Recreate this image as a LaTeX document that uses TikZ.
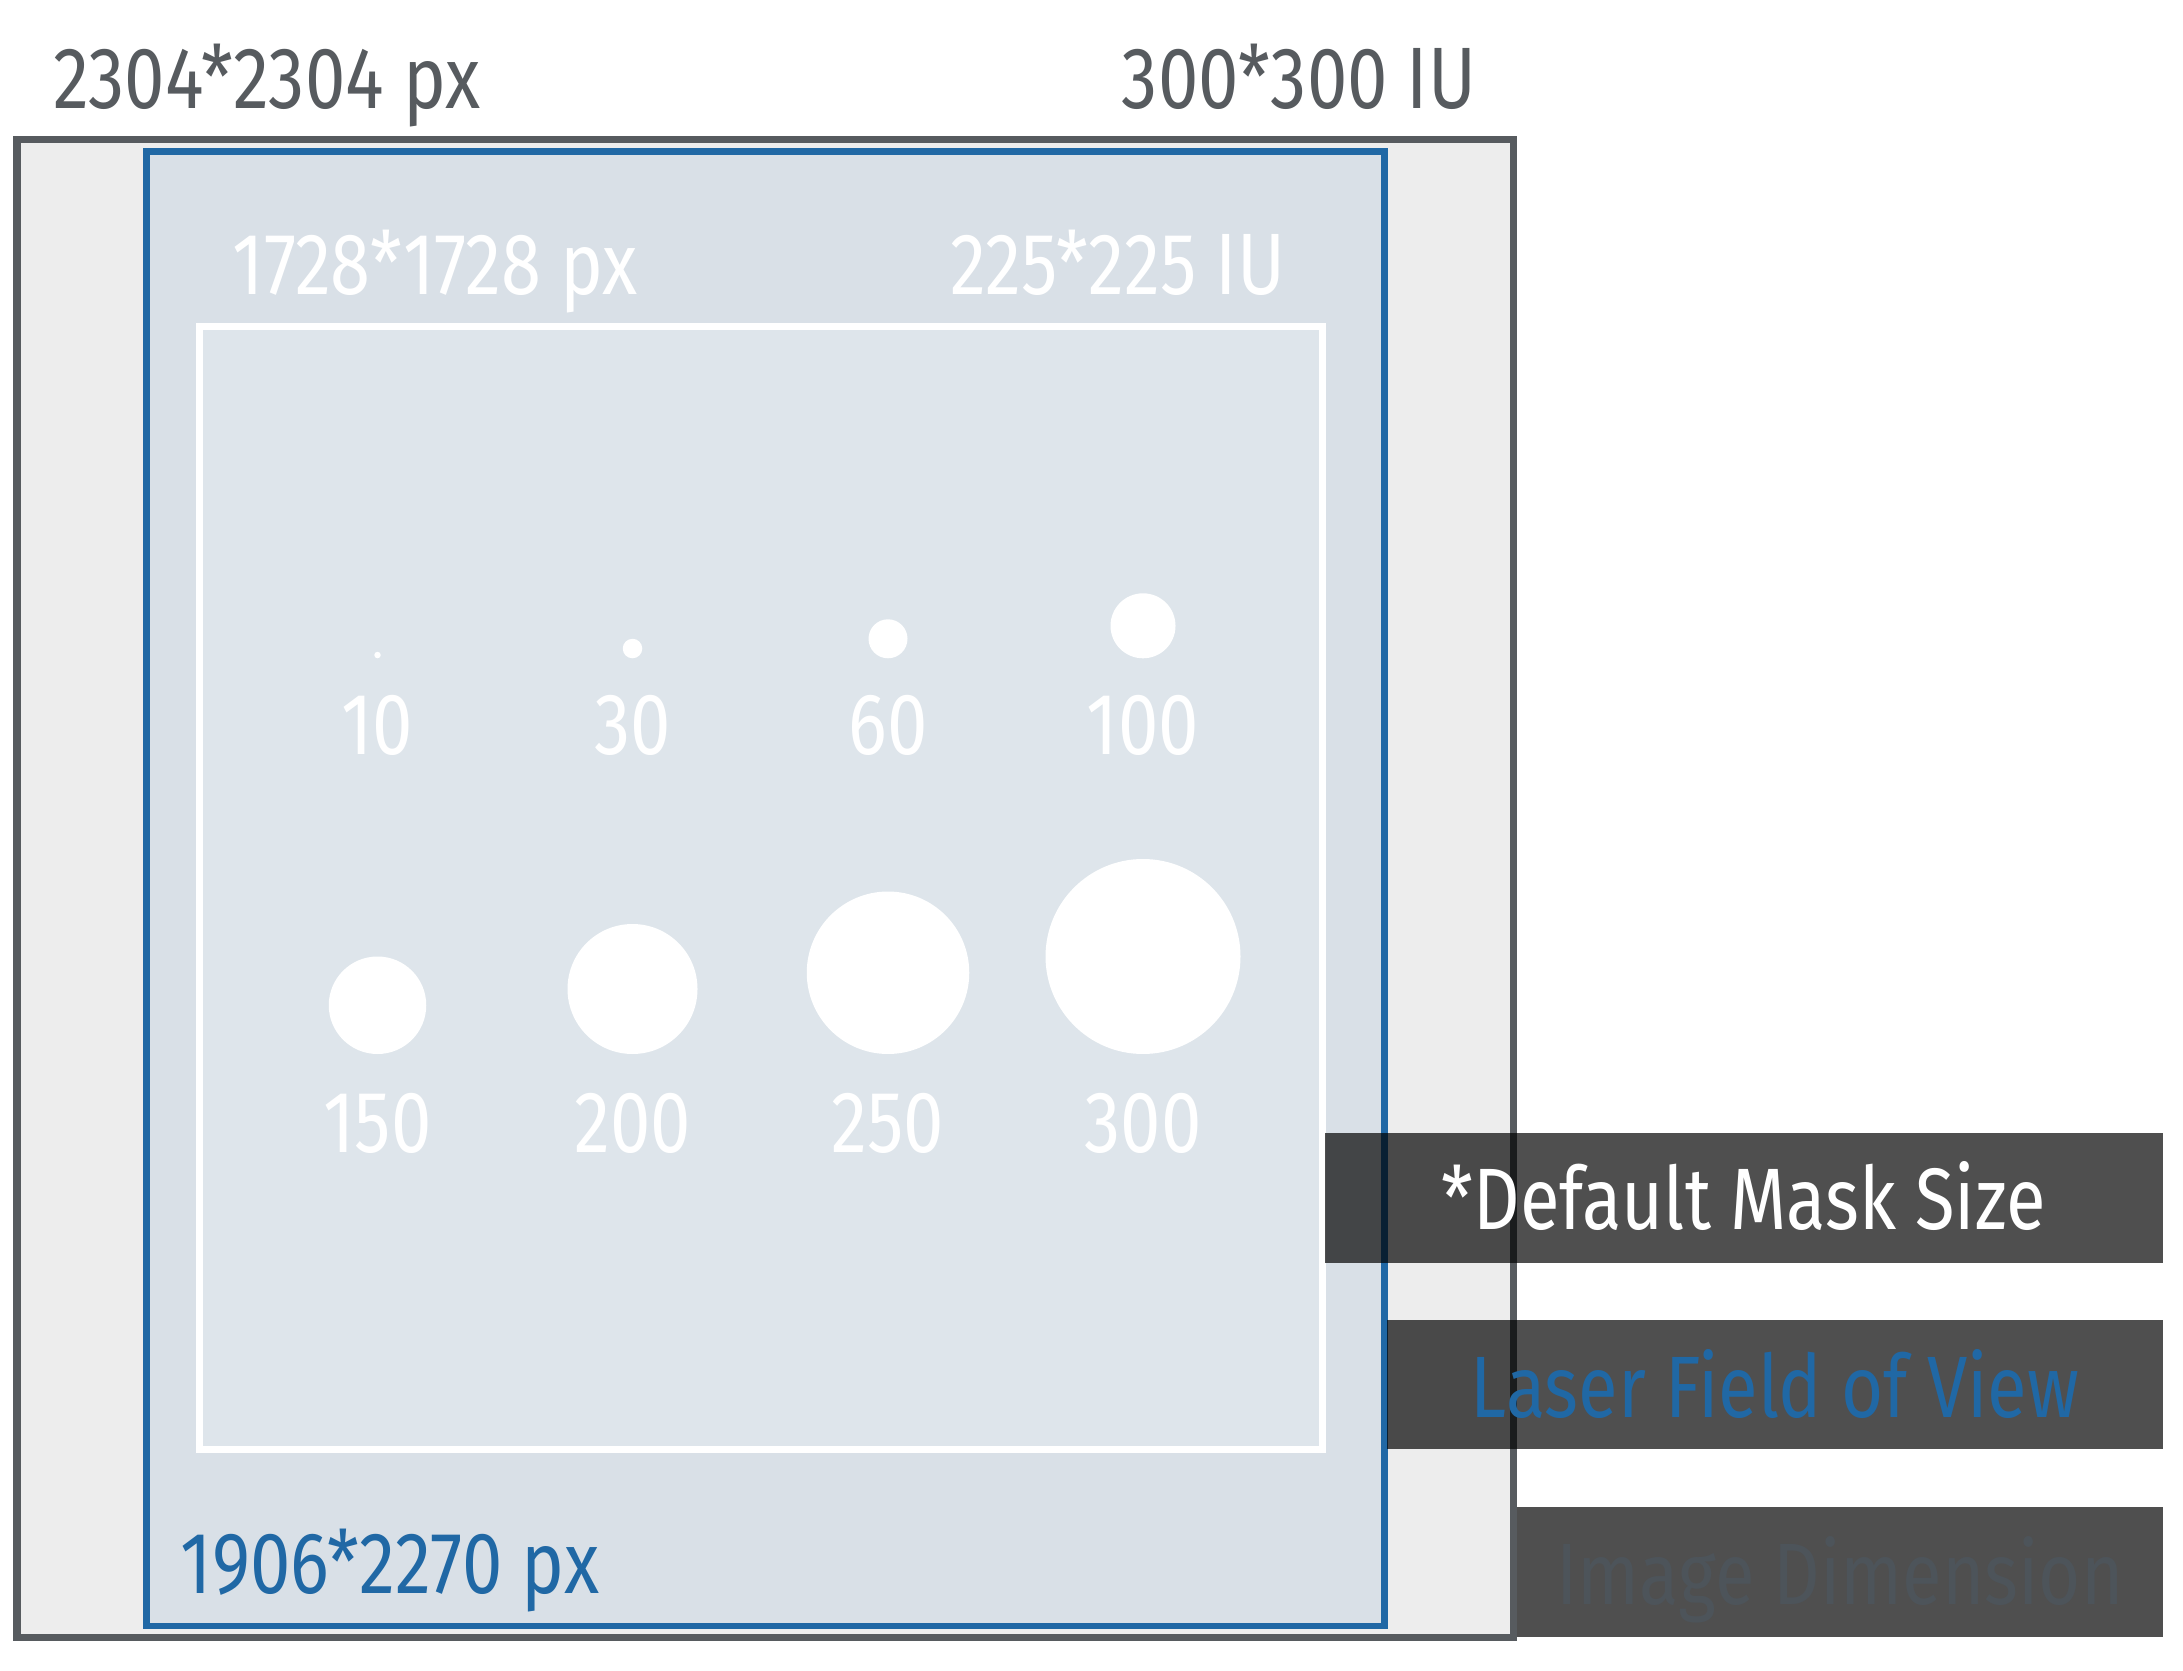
\documentclass[tikz,border=0pt]{standalone}
\usepackage{fontspec}
\setmainfont{Fira Sans}[FakeStretch=0.83]
\definecolor{outergray}{HTML}{575B5F}
\definecolor{outerfill}{HTML}{EDEDED}
\definecolor{fovblue}{HTML}{2068A5}
\definecolor{fovfill}{HTML}{D9E0E7}
\definecolor{maskfill}{HTML}{DEE5EB}
\definecolor{imgtext}{HTML}{4D545A}
\begin{document}
\begin{tikzpicture}[x=0.01cm,y=-0.01cm,
  txt/.style={inner sep=0pt, font=\fontsize{24.8}{30}\selectfont},
  legendbox/.style={fill=black, fill opacity=0.69}]
\useasboundingbox (0,0) rectangle (2183,1671);
\fill[white] (0,0) rectangle (2183,1671);
% rectangles
\draw[outergray, fill=outerfill, line width=0.07cm] (17,140) rectangle (1513,1637);
\draw[fovblue, fill=fovfill, line width=0.065cm] (146.5,151.5) rectangle (1384.5,1626);
\draw[white, fill=maskfill, line width=0.07cm] (199,327) rectangle (1322.5,1449.5);
% header texts
\node[txt, text=outergray, anchor=base west] (imgpx) at (52.7,108.3) {2304*2304 px};
\node[txt, text=outergray, anchor=base east] (imgiu) at (1477,108.3) {300*300 IU};
\node[txt, text=white, anchor=base west] (maskpx) at (232,295) {1728*1728 px};
\node[txt, text=white, anchor=base east] (maskiu) at (1286,295) {225*225 IU};
\node[txt, text=fovblue, anchor=base west] (fovpx) at (180,1593) {1906*2270 px};
% mask circles row 1
\foreach \cx/\v in {377.5/10, 632.5/30, 888/60, 1143/100} {
  \fill[white] (\cx,{658.3-0.325*\v}) circle[radius={0.325*\v}];
  \node[txt, text=white, anchor=base] (lab\v) at (\cx,755) {\v};
}
% row 2
\foreach \cx/\v in {377.5/150, 632.5/200, 888/250, 1143/300} {
  \fill[white] (\cx,{1054-0.325*\v}) circle[radius={0.325*\v}];
  \node[txt, text=white, anchor=base] (lab\v) at (\cx,1152) {\v};
}
% legend boxes
\fill[legendbox] (1325,1132.7) rectangle (2162.6,1262.7);
\fill[legendbox] (1387,1320) rectangle (2162.6,1449.3);
\fill[legendbox] (1517,1506.7) rectangle (2162.6,1636.7);
\node[txt, text=white, anchor=base] (legmask) at (1743.8,1229) {*Default Mask Size};
\node[txt, text=fovblue, anchor=base] (legfov) at (1775,1417) {Laser Field of View};
\node[txt, text=imgtext, anchor=base] (legimg) at (1840,1604) {Image Dimension};
\end{tikzpicture}
\end{document}
